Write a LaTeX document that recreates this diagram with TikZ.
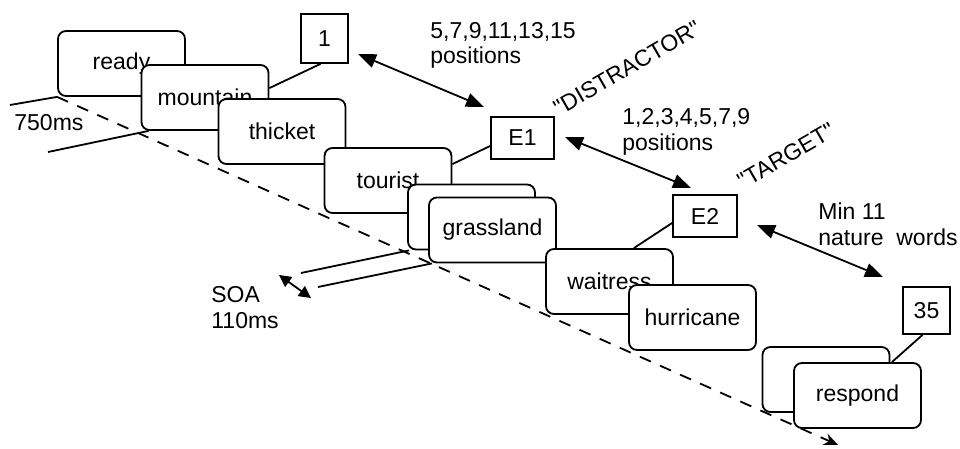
\documentclass[tikz,border=0pt]{standalone}
\usepackage{fontspec}
\setmainfont{Liberation Sans}
\usetikzlibrary{arrows.meta,backgrounds,calc,positioning}

\begin{document}
\begin{tikzpicture}[x=0.5pt,y=-0.5pt,
  every node/.style={font=\fontsize{11.5}{12.8}\selectfont},
  card/.style={draw,line width=0.9pt,fill=white,rounded corners=4pt,
    minimum width=63.5pt,minimum height=32.5pt,inner sep=0pt},
  numbox/.style={draw,line width=0.9pt,fill=white,inner sep=0pt},
  lbl/.style={align=left,anchor=west,inner sep=0pt},
  link/.style={line width=0.9pt},
  dbl/.style={line width=0.9pt,{Triangle[length=9pt,width=7pt]}-{Triangle[length=9pt,width=7pt]}}]
  \useasboundingbox (0,0) rectangle (960,449);

  % Word cards
  \node[card] (ready) at (121.5,63.5) {ready};
  \node[card] (mountain) at (205,97.5) {mountain};
  \node[card] (thicket) at (282,131.5) {thicket};
  \node[card] (tourist) at (388,180.5) {tourist\hspace{9pt}};
  \node[card] (blanka) at (471.5,217) {};
  \node[card] (grassland) at (492.5,230) {grassland};
  \node[card] (waitress) at (609.5,281.5) {waitress};
  \node[card] (hurricane) at (692.5,317.5) {hurricane};
  \node[card] (blankb) at (826,379.5) {};
  \node[card] (respond) at (857.5,395.5) {respond};

  % Time axis
  \coordinate (axisend) at (838,445);
  \begin{pgfonlayer}{background}
    \draw[link,dash pattern=on 6pt off 5pt,-{Stealth[length=7pt,width=6pt]}] (ready.south west) -- (axisend);
  \end{pgfonlayer}

  % Position boxes
  \node[numbox,minimum width=23.5pt,minimum height=24.5pt] (pos1) at (324.5,38.5) {1};
  \node[numbox,minimum width=31.5pt,minimum height=21pt] (e1) at (522.5,138) {E1};
  \node[numbox,minimum width=32pt,minimum height=21pt] (e2) at (705,216) {E2};
  \node[numbox,minimum width=23.5pt,minimum height=23.5pt] (pos35) at (926.5,310.5) {35};
  \draw[link] ([xshift=-2pt]pos1.south) -- ([yshift=-12pt]mountain.north east);
  \draw[link] ([yshift=-4pt]e1.west) -- ([yshift=-8.5pt]tourist.north east);
  \draw[link] ([yshift=-3.5pt]e2.west) -- ([xshift=-20pt]waitress.north east);
  \draw[link] ([xshift=-2pt]pos35.south) -- ([xshift=-15pt]respond.north east);

  % Intervals
  \coordinate (da) at (358,54);
  \coordinate (db) at (484,107);
  \coordinate (dc) at (565,137);
  \coordinate (dd) at (691,188);
  \coordinate (de) at (757,225);
  \coordinate (df) at (883,277);
  \draw[dbl] (da) -- (db);
  \draw[dbl] (dc) -- (dd);
  \draw[dbl] (de) -- (df);
  \node[lbl] (distpos) at (430,45.5) {5,7,9,11,13,15\\positions};
  \node[lbl] (targpos) at (622,132) {1,2,3,4,5,7,9\\positions};
  \node[lbl] (minwords) at (818,224) {Min 11\\nature\ \ words};
  \node[rotate=30,inner sep=0pt] (distlbl) at (627,68) {\textquotedbl DISTRACTOR\textquotedbl};
  \node[rotate=30,inner sep=0pt] (targlbl) at (786,156) {\textquotedbl TARGET\textquotedbl};

  % Duration 750ms
  \coordinate (ta) at (10,105);
  \coordinate (tb) at (48,152);
  \draw[link] (ta) -- (ready.south west);
  \draw[link] (tb) -- ([xshift=4pt]mountain.south west);
  \node[lbl] (dur) at (14,123) {750ms};

  % SOA
  \coordinate (sa) at (301,273);
  \coordinate (sb) at (318,287);
  \draw[link] (sa) -- ([xshift=1pt]blanka.south west);
  \draw[link] (sb) -- ([xshift=2pt]grassland.south west);
  \coordinate (soaa) at (279,275);
  \coordinate (soab) at (311,298);
  \draw[line width=0.9pt,{Triangle[length=6pt,width=6pt]}-{Triangle[length=6pt,width=6pt]}] (soaa) -- (soab);
  \node[lbl] (soa) at (211,307.5) {SOA\\110ms};
\end{tikzpicture}
\end{document}
